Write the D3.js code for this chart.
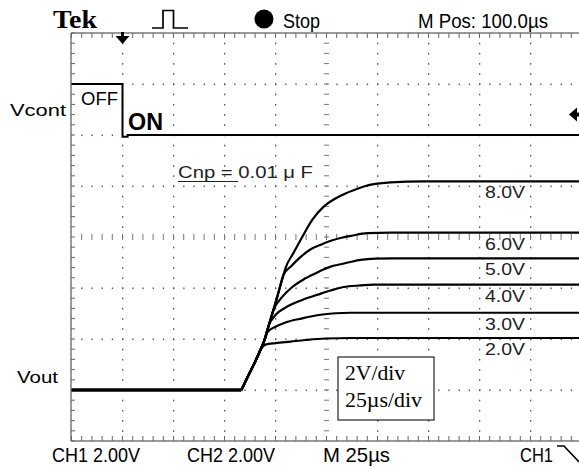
<!DOCTYPE html>
<html><head><meta charset="utf-8">
<script src="https://cdn.jsdelivr.net/npm/d3@7"></script>
<style>html,body{margin:0;padding:0;background:#fff;}svg{display:block;}</style>
</head><body>
<script>
// ---- data ----
const timeDomain = [0, 250];          // µs (25 µs/div, 10 div)
const voutDomain = [-2, 14];          // V (2 V/div, 8 div)
const vcontT = [0, 25, 25, 27.5, 27.5, 250];
const vcontV = [2.0, 2.0, -0.07, -0.07, 0, 0];
const commonT = [0, 83.3, 86.8, 90.2, 92.6, 94.6, 96.6, 99.0, 101.5, 103.9];
const commonV = [0, 0, 0.59, 1.14, 1.57, 1.96, 2.51, 3.14, 3.84, 4.51];
const curveLabels = ["8.0V", "6.0V", "5.0V", "4.0V", "3.0V", "2.0V"];
const branchIndex = [9, 9, 7, 6, 5, 4];
const v8T = [104.9,108.8,113.1,118.0,123.5,129.4,134.3,139.2,144.1,149.0,156.4,172.5,250];
const v8V = [4.78,5.37,6.00,6.67,7.18,7.51,7.71,7.86,8.00,8.08,8.14,8.18,8.18];
const v6T = [107.8,111.8,116.7,122.5,127.5,132.4,137.3,145.1,156.4,250];
const v6V = [4.86,5.18,5.49,5.71,5.86,5.97,6.05,6.15,6.17,6.17];
const v5T = [103.3,108.2,114.7,121.2,127.0,131.9,136.8,141.7,149.0,157.8,250];
const v5V = [3.65,4.04,4.38,4.64,4.84,4.93,5.02,5.10,5.15,5.16,5.16];
const v4T = [100.0,104.9,113.1,121.2,127.0,133.3,141.7,148.0,250];
const v4V = [2.94,3.23,3.53,3.75,3.90,4.04,4.10,4.13,4.13];
const v3T = [96.1,100.0,104.9,113.1,121.2,129.4,136.8,250];
const v3V = [2.27,2.48,2.65,2.81,2.94,3.01,3.03,3.03];
const v2T = [95.1,100.0,107.4,114.7,124.5,136.8,250];
const v2V = [1.78,1.84,1.90,1.96,2.02,2.04,2.04];
const tailT = [v8T, v6T, v5T, v4T, v3T, v2T];
const tailV = [v8V, v6V, v5V, v4V, v3V, v2V];
const triggerPosT = 25;   // µs
const triggerLevelV = 0.8; // V (CH1)

// ---- drawing ----
const W = 579, H = 468;
const svg = d3.select("body").append("svg").attr("width", W).attr("height", H);
const x = d3.scaleLinear().domain(timeDomain).range([71.5, 581.5]);
const yOut = d3.scaleLinear().domain(voutDomain).range([441, 33]);
const yCont = d3.scaleLinear().domain([-12, 4]).range([441, 33]);

const grid = svg.append("g");
const majT = d3.range(0, 250.1, 25), minT = d3.range(0, 250.1, 5);
const majV = d3.range(-2, 14.1, 2), minV = d3.range(-2, 14.01, 0.4);
// dotted grid
majT.slice(1).forEach(t => {
  if (t === 125) return;
  minV.forEach(v => grid.append("rect").attr("x", x(t) - 0.5).attr("y", yOut(v) - 0.5)
    .attr("width", 1.3).attr("height", 1.6).attr("fill", "#555"));
});
majV.slice(1, -1).forEach(v => {
  if (v === 6) return;
  minT.forEach(t => grid.append("rect").attr("x", x(t) - 0.5).attr("y", yOut(v) - 0.5)
    .attr("width", 1.3).attr("height", 1.6).attr("fill", "#555"));
});
// center cross with ticks
minT.forEach(t => grid.append("line").attr("x1", x(t)).attr("x2", x(t))
  .attr("y1", yOut(6) - 3).attr("y2", yOut(6) + 3).attr("stroke", "#777").attr("stroke-width", 1));
minV.forEach(v => grid.append("line").attr("x1", x(125) - 2.5).attr("x2", x(125) + 2.5)
  .attr("y1", yOut(v)).attr("y2", yOut(v)).attr("stroke", "#777").attr("stroke-width", 1));
// borders
grid.append("line").attr("x1", 71).attr("x2", W).attr("y1", 33).attr("y2", 33).attr("stroke", "#999").attr("stroke-width", 2);
grid.append("line").attr("x1", 71).attr("x2", W).attr("y1", 441).attr("y2", 441).attr("stroke", "#999").attr("stroke-width", 2);
grid.append("line").attr("x1", 71).attr("x2", 71).attr("y1", 33).attr("y2", 441).attr("stroke", "#999").attr("stroke-width", 2);
minT.forEach(t => {
  grid.append("line").attr("x1", x(t)).attr("x2", x(t)).attr("y1", 33).attr("y2", 38).attr("stroke", "#666");
  grid.append("line").attr("x1", x(t)).attr("x2", x(t)).attr("y1", 436).attr("y2", 441).attr("stroke", "#666");
});
minV.forEach(v => grid.append("line").attr("x1", 71).attr("x2", 75).attr("y1", yOut(v)).attr("y2", yOut(v)).attr("stroke", "#666"));

// Vcont trace
const lineC = d3.line().x((d, i) => x(vcontT[i])).y((d, i) => yCont(vcontV[i]));
svg.append("path").attr("d", lineC(vcontT)).attr("fill", "none").attr("stroke", "#000").attr("stroke-width", 2);

// Vout traces
const lineO = d3.line().x(d => x(d[0])).y(d => yOut(d[1])).curve(d3.curveMonotoneX);
svg.append("path").attr("d", lineO([[commonT[0], commonV[0]], [commonT[1], commonV[1]]]))
  .attr("fill", "none").attr("stroke", "#000").attr("stroke-width", 3.5);
curveLabels.forEach((lab, k) => {
  const pts = [];
  for (let i = 1; i <= branchIndex[k]; i++) pts.push([commonT[i], commonV[i]]);
  tailT[k].forEach((t, i) => pts.push([t, tailV[k][i]]));
  svg.append("path").attr("d", lineO(pts)).attr("fill", "none").attr("stroke", "#000")
    .attr("stroke-width", 2.2).attr("stroke-linejoin", "round");
  const vEnd = tailV[k][tailV[k].length - 1];
  svg.append("text").attr("x", 485).attr("y", yOut(vEnd) + 17)
    .attr("font-family", "Liberation Sans, Arial, sans-serif").attr("font-size", 16)
    .attr("textLength", 40).attr("lengthAdjust", "spacingAndGlyphs").attr("fill", "#222").text(lab);
});

// markers
const tx = x(triggerPosT);
svg.append("rect").attr("x", tx - 1.5).attr("y", 32).attr("width", 3).attr("height", 5).attr("fill", "#000");
svg.append("path").attr("d", `M${tx-7},36 L${tx+7},36 L${tx},44 Z`).attr("fill", "#000");
const ty = yCont(triggerLevelV);
svg.append("path").attr("d", `M569,${ty} L577,${ty-7} L577,${ty+7} Z`).attr("fill", "#000");
svg.append("rect").attr("x", 576).attr("y", ty - 2).attr("width", 3).attr("height", 4).attr("fill", "#000");

// header
function t(xp, yp, s, size, len, fam, weight, fill) {
  const e = svg.append("text").attr("x", xp).attr("y", yp).attr("font-size", size)
    .attr("font-family", fam || "Liberation Sans, Arial, sans-serif")
    .attr("font-weight", weight || "normal").attr("fill", fill || "#000").text(s);
  if (len) e.attr("textLength", len).attr("lengthAdjust", "spacingAndGlyphs");
  return e;
}
t(53, 28, "Tek", 26, 44, "Liberation Serif, Times New Roman, serif", "bold");
svg.append("path").attr("d", "M152,28 L163,28 L163,10.5 L173.5,10.5 L173.5,28 L188,28")
  .attr("fill", "none").attr("stroke", "#000").attr("stroke-width", 1.7);
svg.append("circle").attr("cx", 264).attr("cy", 19).attr("r", 9.5).attr("fill", "#000");
t(283, 28, "Stop", 21, 37);
t(418, 28, "M Pos: 100.0µs", 21, 130);
// footer
t(52, 462, "CH1  2.00V", 21, 88);
t(187, 462, "CH2  2.00V", 21, 88);
t(323, 462, "M 25µs", 21, 67);
t(520, 462, "CH1", 21, 33);
svg.append("path").attr("d", "M557,446 L564,446 L579,462").attr("fill", "none").attr("stroke", "#000").attr("stroke-width", 1.6);

// labels
t(10, 116, "Vcont", 17, 56);
t(17, 383, "Vout", 17, 41);
t(81, 105, "OFF", 18, 37);
t(128, 130, "ON", 23, 35, null, "bold");
t(178, 178, "Cnp = 0.01 μ F", 16.5, 135, null, null, "#222");
svg.append("line").attr("x1", 178).attr("x2", 238).attr("y1", 181.5).attr("y2", 181.5).attr("stroke", "#222").attr("stroke-width", 1.2);

// legend box
svg.append("rect").attr("x", 338).attr("y", 357).attr("width", 96).attr("height", 63)
  .attr("fill", "#fff").attr("stroke", "#222").attr("stroke-width", 1.2);
t(345, 380, "2V/div", 20, 60, "Liberation Serif, Times New Roman, serif");
t(345, 407, "25µs/div", 20, 77, "Liberation Serif, Times New Roman, serif");
</script>
</body></html>
